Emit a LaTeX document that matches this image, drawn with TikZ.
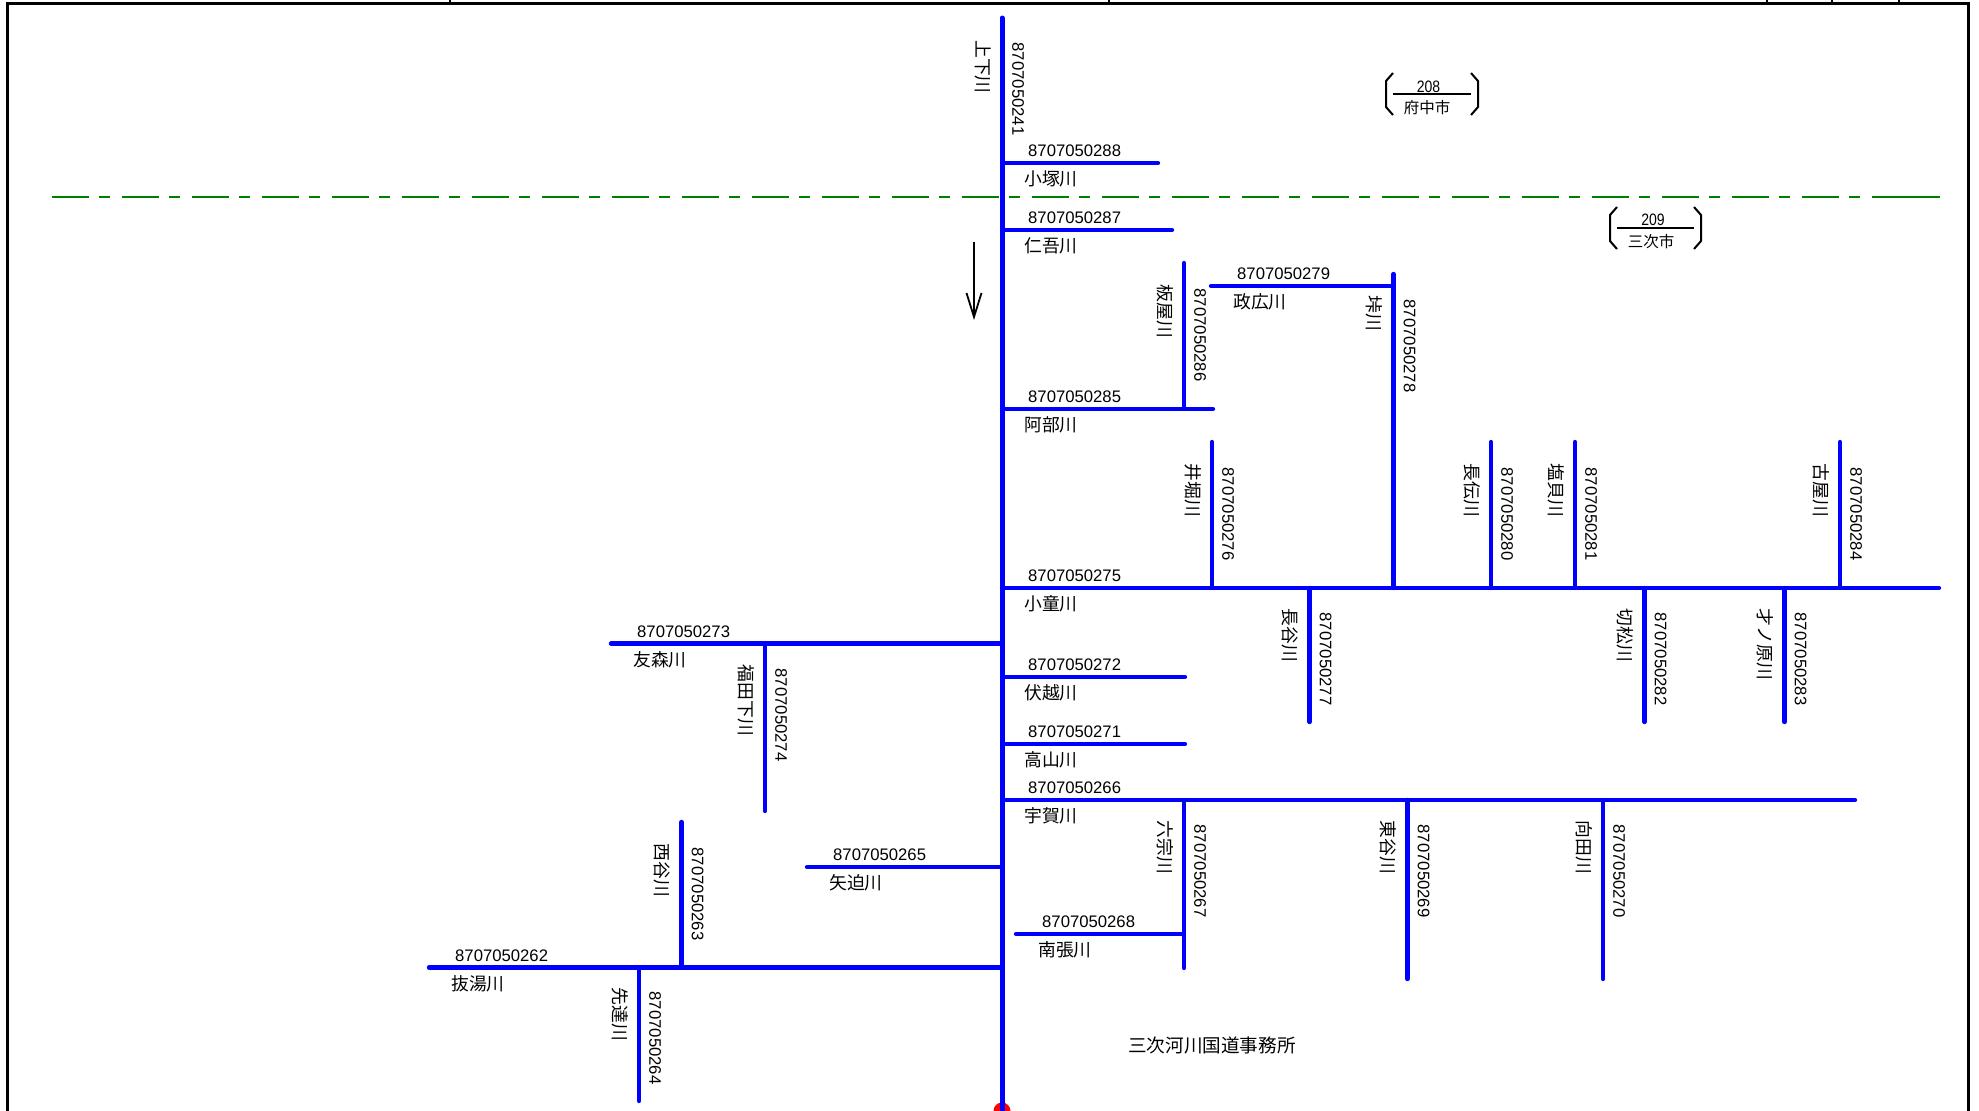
\documentclass[tikz,border=0pt]{standalone}
\usepackage{fontspec}
\setmainfont{Liberation Sans}
\newfontfamily\jpf{Noto Sans CJK JP}
\usetikzlibrary{arrows.meta}
\tikzset{
  riv/.style={draw=rivblue,line width=4.3pt,line cap=round},
  trunk/.style={draw=rivblue,line width=5pt,line cap=round},
  numlab/.style={inner sep=0pt,font=\fontsize{16.7}{18}\selectfont},
  jplab/.style={inner sep=0pt,font=\jpf\fontsize{17.8}{19}\selectfont},
  citynum/.style={inner sep=0pt,xscale=.85,font=\fontsize{16.5}{17}\selectfont},
  cityjp/.style={inner sep=0pt,font=\jpf\fontsize{15.5}{17}\selectfont},
  citybr/.style={draw=black,line width=2pt},
  bound/.style={draw=boundgreen,line width=2.2pt,dash pattern=on 37pt off 10pt on 11pt off 12pt},
  boundend/.style={draw=boundgreen,line width=2.2pt},
  frameln/.style={draw=black,line width=3pt},
  tick/.style={draw=black,line width=1.2pt},
  flowarr/.style={draw=black,line width=1.8pt,-{Straight Barb[length=24pt,width=15pt,line width=1.8pt]}}
}
\definecolor{rivblue}{RGB}{0,0,255}
\definecolor{boundgreen}{RGB}{0,128,0}
% id, x1, x2, y, label-left, number, name
\newcommand\HRiv[7]{%
  \coordinate (#1a) at (#2,#4);
  \coordinate (#1b) at (#3,#4);
  \draw[riv] (#1a) -- (#1b);
  \path (#5,#4) ++(0,-12) node[numlab,anchor=west] (#1n) {#6};
  \path (#5,#4) ++(-4,16) node[jplab,anchor=west] (#1k) {#7};
}
% id, x, y1, y2, label-top, number, name
\newcommand\VRiv[7]{%
  \coordinate (#1a) at (#2,#3);
  \coordinate (#1b) at (#2,#4);
  \draw[riv] (#1a) -- (#1b);
  \path (#2,#5) ++(16,0) node[numlab,rotate=-90,anchor=west] (#1n) {#6};
  \path (#2,#5) ++(-19,-4) node[jplab,rotate=-90,anchor=west] (#1k) {#7};
}
% id, x-left, x-right, y-top, y-bottom
\newcommand\CityBr[5]{%
  \coordinate (#1tl) at (#2,#4);
  \coordinate (#1bl) at (#2,#5);
  \coordinate (#1tr) at (#3,#4);
  \coordinate (#1br) at (#3,#5);
  \draw[citybr] ([xshift=7pt]#1tl) -- ([yshift=-8pt]#1tl) -- ([yshift=8pt]#1bl) -- ([xshift=7pt]#1bl);
  \draw[citybr] ([xshift=-7pt]#1tr) -- ([yshift=-8pt]#1tr) -- ([yshift=8pt]#1br) -- ([xshift=-7pt]#1br);
}
\begin{document}
\begin{tikzpicture}[x=1pt,y=-1pt]
\useasboundingbox (0,0) rectangle (1979,1111);
% frame
\coordinate (fbl) at (7,1111);
\coordinate (ftl) at (7,3);
\coordinate (ftr) at (1968,3);
\coordinate (fbr) at (1968,1111);
\draw[frameln] (fbl) -- (ftl) -- (ftr) -- (fbr);
\foreach \tx in {450,1109,1767,1832,1899}{\draw[tick] (\tx,0) -- (\tx,3);}
% boundary
\coordinate (bl) at (52,197);
\coordinate (br) at (1940,197);
\coordinate (bre) at (1905,197);
\draw[bound] (bl) -- (br);
\draw[boundend] (bre) -- (br);
% outlet mark
\fill[red] (1002,1111) circle (8.5pt);
% branches
\HRiv{r288}{1002}{1158}{163}{1028}{8707050288}{小塚川}
\HRiv{r287}{1002}{1172}{230}{1028}{8707050287}{仁吾川}
\HRiv{r285}{1002}{1213}{409}{1028}{8707050285}{阿部川}
\HRiv{r275}{1002}{1939}{588}{1028}{8707050275}{小童川}
\HRiv{r272}{1002}{1185}{677}{1028}{8707050272}{伏越川}
\HRiv{r271}{1002}{1185}{744}{1028}{8707050271}{高山川}
\HRiv{r266}{1002}{1855}{800}{1028}{8707050266}{宇賀川}
\HRiv{r268}{1016}{1184}{934}{1042}{8707050268}{南張川}
\HRiv{r273}{611}{1002}{643.5}{637}{8707050273}{友森川}
\HRiv{r265}{807}{1002}{867}{833}{8707050265}{矢迫川}
\HRiv{r262}{429}{1002}{967.5}{455}{8707050262}{抜湯川}
\HRiv{r279}{1211}{1393}{286}{1237}{8707050279}{政広川}
\VRiv{r286}{1184}{263}{409}{288.5}{8707050286}{板屋川}
\VRiv{r278}{1393.5}{274}{588}{299.5}{8707050278}{垰川}
\VRiv{r276}{1212}{442}{588}{467.5}{8707050276}{井堀川}
\VRiv{r280}{1491}{442}{588}{467.5}{8707050280}{長伝川}
\VRiv{r281}{1575}{442}{588}{467.5}{8707050281}{塩貝川}
\VRiv{r284}{1840}{442}{588}{467.5}{8707050284}{古屋川}
\VRiv{r277}{1309.5}{588}{722}{612.5}{8707050277}{長谷川}
\VRiv{r282}{1644.5}{588}{722}{612.5}{8707050282}{切松川}
\VRiv{r283}{1784.5}{588}{722}{612.5}{8707050283}{才ノ原川}
\VRiv{r274}{765}{643.5}{811}{668.5}{8707050274}{福田下川}
\VRiv{r263}{681.5}{822}{967}{847.5}{8707050263}{西谷川}
\VRiv{r264}{639}{967.5}{1101}{991.5}{8707050264}{先達川}
\VRiv{r267}{1184}{800}{968}{824.5}{8707050267}{六宗川}
\VRiv{r269}{1407.5}{800}{979}{824.5}{8707050269}{東谷川}
\VRiv{r270}{1603}{800}{979}{824.5}{8707050270}{向田川}
% trunk
\coordinate (ta) at (1002,18);
\coordinate (tb) at (1002,1113);
\draw[trunk] (ta) -- (tb);
\path (1002,42.5) ++(16,0) node[numlab,rotate=-90,anchor=west] (tn) {8707050241};
\path (1002,40) ++(-19,0) node[jplab,rotate=-90,anchor=west] (tk) {上下川};
% flow arrow
\coordinate (fa) at (974,242);
\coordinate (fb) at (974,320);
\draw[flowarr] (fa) -- (fb);
% office
\node[jplab,font=\jpf\fontsize{18.6}{20}\selectfont,anchor=west] (office) at (1128,1045) {三次河川国道事務所};
% cities
\CityBr{ca}{1386}{1478}{73}{115}
\coordinate (cab1) at (1393,94);
\coordinate (cab2) at (1471,94);
\draw[citybr] (cab1) -- (cab2);
\node[citynum] (can) at (1428.5,86.5) {208};
\node[cityjp] (cak) at (1427,108) {府中市};
\CityBr{cb}{1610}{1701}{207}{249}
\coordinate (cbb1) at (1617,228);
\coordinate (cbb2) at (1694,228);
\draw[citybr] (cbb1) -- (cbb2);
\node[citynum] (cbn) at (1653,219.5) {209};
\node[cityjp] (cbk) at (1651,242) {三次市};
\end{tikzpicture}
\end{document}
